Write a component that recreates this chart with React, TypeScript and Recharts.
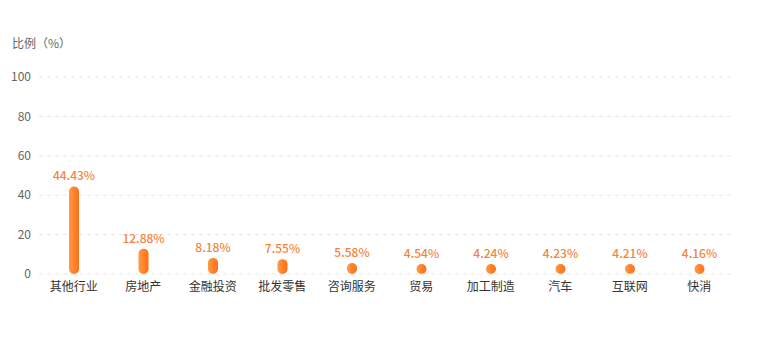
import React from "react";
import { BarChart, Bar, XAxis, YAxis, CartesianGrid, LabelList } from "recharts";

const categories = ["其他行业", "房地产", "金融投资", "批发零售", "咨询服务", "贸易", "加工制造", "汽车", "互联网", "快消"];
const ratios = [44.43, 12.88, 8.18, 7.55, 5.58, 4.54, 4.24, 4.23, 4.21, 4.16];
const yTicks = [0, 20, 40, 60, 80, 100];

const data = categories.map((name, i) => ({ name, value: ratios[i] }));

const FONT = '"Noto Sans CJK SC", "Noto Sans", sans-serif';

export default function App() {
  return (
    <div style={{ position: "absolute", left: 0, top: 0, width: 768, height: 361, background: "#fff", fontFamily: FONT }}>
      <div style={{ position: "absolute", left: 12, top: 34, fontSize: 12, color: "#666", fontFamily: FONT }}>比例（%）</div>
      <BarChart width={768} height={361} data={data} margin={{ top: 77, right: 34, bottom: 57, left: 0 }}>
        <defs>
          <linearGradient id="barGrad" x1="0" y1="0" x2="1" y2="0">
            <stop offset="0%" stopColor="#FF9A45" />
            <stop offset="100%" stopColor="#FF6E14" />
          </linearGradient>
        </defs>
        <CartesianGrid vertical={false} stroke="#E8E8E8" strokeDasharray="4 4" />
        <XAxis
          dataKey="name"
          axisLine={false}
          tickLine={false}
          interval={0}
          height={30}
          tick={{ fontSize: 12, fill: "#333", fontFamily: FONT }}
        />
        <YAxis
          width={39}
          domain={[0, 100]}
          ticks={yTicks}
          axisLine={false}
          tickLine={false}
          tick={{ fontSize: 12, fill: "#666", fontFamily: FONT }}
        />
        <Bar dataKey="value" barSize={10} radius={5} minPointSize={10} fill="url(#barGrad)" isAnimationActive={false}>
          <LabelList
            dataKey="value"
            position="top"
            offset={6}
            formatter={(v: number) => `${v.toFixed(2)}%`}
            style={{ fontSize: 12, fill: "#F5843A", fontFamily: FONT, fontWeight: 500 }}
          />
        </Bar>
      </BarChart>
    </div>
  );
}
